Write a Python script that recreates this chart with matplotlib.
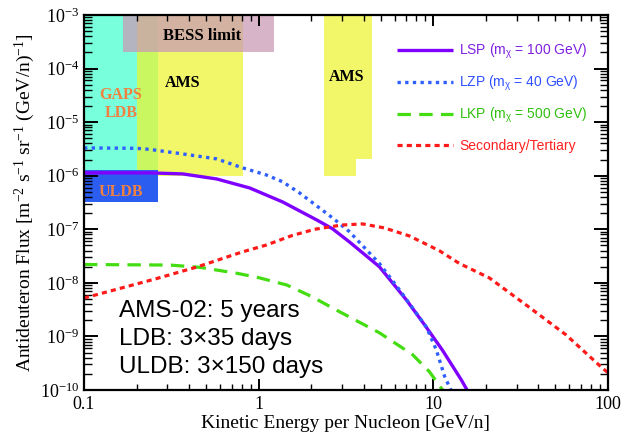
import matplotlib
matplotlib.use("Agg")
import matplotlib.pyplot as plt
from matplotlib.ticker import LogLocator, FixedLocator, FixedFormatter, NullFormatter

plt.rcParams['font.family'] = ['Liberation Serif', 'DejaVu Serif']
plt.rcParams['mathtext.fontset'] = 'custom'
plt.rcParams['mathtext.rm'] = 'Liberation Serif'
plt.rcParams['mathtext.it'] = 'Liberation Serif:italic'
plt.rcParams['mathtext.sf'] = 'Liberation Sans'

# ---------------- data ----------------
lsp_E = [0.1, 0.15, 0.238, 0.368, 0.575, 0.889, 1.371, 2.145, 2.65, 3.31, 4.91, 7.01, 8.89, 11.25, 14.45, 15.6]
lsp_F = [1.13e-6, 1.13e-6, 1.13e-6, 1.08e-6, 8.7e-7, 5.9e-7, 3.24e-7, 1.5e-7, 1.02e-7, 5.8e-8,
         2.0e-8, 4.8e-9, 1.66e-9, 5.6e-10, 1.55e-10, 1.0e-10]

lzp_E = [0.1, 0.2, 0.238, 0.368, 0.575, 0.81, 1.11, 1.371, 1.71, 2.145, 2.65, 3.31, 4.91, 6.4, 9.12, 10.4, 11.6, 12.6]
lzp_F = [3.3e-6, 3.25e-6, 3.1e-6, 2.55e-6, 2.06e-6, 1.4e-6, 1.03e-6, 7.7e-7, 4.8e-7, 2.75e-7,
         1.63e-7, 9.0e-8, 2.3e-8, 7.4e-9, 1.5e-9, 5.6e-10, 1.8e-10, 1.0e-10]

lkp_E = [0.1, 0.31, 0.46, 0.759, 1.01, 1.45, 2.0, 2.79, 4.91, 7.59, 9.49, 11.3]
lkp_F = [2.2e-8, 2.15e-8, 1.95e-8, 1.5e-8, 1.24e-8, 9.1e-9, 5.6e-9, 3.1e-9, 1.17e-9, 4.6e-10, 2.2e-10, 1.0e-10]

sec_E = [0.1, 0.26, 0.448, 0.81, 1.11, 1.545, 2.09, 2.98, 3.93, 5.25, 7.3, 10.8, 14.1, 20.9, 35.4, 57.5, 92.4, 100]
sec_F = [5.2e-9, 1.2e-8, 2.0e-8, 3.8e-8, 5.1e-8, 7.6e-8, 1.0e-7, 1.2e-7, 1.26e-7, 1.06e-7, 7.5e-8,
         4.0e-8, 2.3e-8, 1.24e-8, 3.5e-9, 1.07e-9, 2.6e-10, 2.1e-10]

series_labels = ["LSP (m$_{\\mathsf{\\chi}}$ = 100 GeV)", "LZP (m$_{\\mathsf{\\chi}}$ = 40 GeV)",
                 "LKP (m$_{\\mathsf{\\chi}}$ = 500 GeV)", "Secondary/Tertiary"]

# sensitivity regions: (E_lo, E_hi, F_lo, F_hi)
gaps_ldb = (0.1, 0.265, 1.29e-6, 1e-3)
gaps_uldb = (0.1, 0.265, 3.2e-7, 1.29e-6)
ams_low = (0.2, 0.81, 1.0e-6, 1e-3)
ams_high1 = (2.38, 3.63, 1.0e-6, 1e-3)
ams_high2 = (3.63, 4.48, 2.05e-6, 1e-3)
bess = (0.167, 1.23, 2.0e-4, 1e-3)

x_ticks = [0.1, 1, 10, 100]
x_ticklabels = ["0.1", "1", "10", "100"]
y_ticks = [1e-10, 1e-9, 1e-8, 1e-7, 1e-6, 1e-5, 1e-4, 1e-3]
y_ticklabels = ["$\\mathdefault{10^{-10}}$", "$\\mathdefault{10^{-9}}$", "$\\mathdefault{10^{-8}}$",
                "$\\mathdefault{10^{-7}}$", "$\\mathdefault{10^{-6}}$", "$\\mathdefault{10^{-5}}$",
                "$\\mathdefault{10^{-4}}$", "$\\mathdefault{10^{-3}}$"]

# ---------------- figure ----------------
fig = plt.figure(figsize=(6.21, 4.40), dpi=100)
ax = fig.add_axes([84/621, 50/440, 524/621, 375/440])
ax.set_xscale('log')
ax.set_yscale('log')
ax.set_xlim(0.1, 100)
ax.set_ylim(1e-10, 1e-3)

def rect(r, color, alpha=1.0, z=1):
    ax.fill_between([r[0], r[1]], r[2], r[3], color=color, alpha=alpha, lw=0, zorder=z)

rect(gaps_ldb, '#78ffdc', z=1)
rect(ams_low, '#ecf42a', alpha=0.7, z=1.1)
rect(ams_high1, '#ecf42a', alpha=0.7, z=1.1)
rect(ams_high2, '#ecf42a', alpha=0.7, z=1.1)
rect(gaps_uldb, '#2b5ef0', z=1.2)
rect(bess, '#c99ab5', alpha=0.74, z=1.3)

tb = dict(fontweight='bold', ha='center', va='center', zorder=3)
ax.text(0.472, 4.1e-4, "BESS limit", color='black', fontsize=12, **tb)
ax.text(0.368, 5.4e-5, "AMS", color='black', fontsize=11.5, **tb)
ax.text(3.18, 7.0e-5, "AMS", color='black', fontsize=11.5, **tb)
ax.text(0.163, 2.2e-5, "GAPS\nLDB", color='#f08040', fontsize=11.5, linespacing=1.15, **tb)
ax.text(0.163, 5.0e-7, "ULDB", color='#f08040', fontsize=11.5, **tb)

l1, = ax.plot(lsp_E, lsp_F, color='#8000ff', lw=2.4, solid_capstyle='butt', solid_joinstyle='round', zorder=4)
l2, = ax.plot(lzp_E, lzp_F, color='#2f5fff', lw=2.4, linestyle=(0, (1.0, 1.3)), zorder=4)
l3, = ax.plot(lkp_E, lkp_F, color='#44dd11', lw=2.3, linestyle=(0, (4.2, 2.6)), zorder=4)
l4, = ax.plot(sec_E, sec_F, color='#ff1a1a', lw=2.3, linestyle=(0, (1.6, 1.3)), zorder=4)

leg = ax.legend([l1, l2, l3, l4], series_labels, loc='upper left', bbox_to_anchor=(0.598, 0.928),
                frameon=False, borderpad=0, borderaxespad=0, handlelength=4.0, handletextpad=0.45,
                labelspacing=0.95, prop={'family': 'Liberation Sans', 'size': 10})
for txt, c in zip(leg.get_texts(), ['#8020e0', '#3050ff', '#30c010', '#ff2020']):
    txt.set_color(c)

sans = dict(family='Liberation Sans', fontsize=17.5, color='black', ha='left', va='baseline',
            transform=ax.transAxes, zorder=5)
ax.text(0.067, 0.195, "AMS-02: 5 years", **sans)
ax.text(0.067, 0.12, "LDB: 3\u00d735 days", **sans)
ax.text(0.067, 0.045, "ULDB: 3\u00d7150 days", **sans)

ax.xaxis.set_major_locator(FixedLocator(x_ticks))
ax.xaxis.set_major_formatter(FixedFormatter(x_ticklabels))
ax.xaxis.set_minor_locator(LogLocator(base=10, subs=range(2, 10), numticks=20))
ax.xaxis.set_minor_formatter(NullFormatter())
ax.yaxis.set_major_locator(FixedLocator(y_ticks))
ax.yaxis.set_major_formatter(FixedFormatter(y_ticklabels))
ax.yaxis.set_minor_locator(LogLocator(base=10, subs=range(2, 10), numticks=20))
ax.yaxis.set_minor_formatter(NullFormatter())

ax.tick_params(which='both', direction='in', top=True, right=True, labelsize=13)
ax.tick_params(axis='y', which='major', length=10, width=1.4)
ax.tick_params(axis='y', which='minor', length=6, width=1.0)
ax.tick_params(axis='x', which='major', length=8, width=1.4, pad=4)
ax.tick_params(axis='x', which='minor', length=4, width=1.0)
for s in ax.spines.values():
    s.set_linewidth(1.6)
    s.set_zorder(6)

ax.set_xlabel("Kinetic Energy per Nucleon [GeV/n]", fontsize=14, labelpad=2)
ax.set_ylabel("Antideuteron Flux [m$^{\\mathdefault{-2}}$ s$^{\\mathdefault{-1}}$ "
              "sr$^{\\mathdefault{-1}}$ (GeV/n)$^{\\mathdefault{-1}}$]", fontsize=14, labelpad=2)

fig.savefig("out.png", dpi=100)
